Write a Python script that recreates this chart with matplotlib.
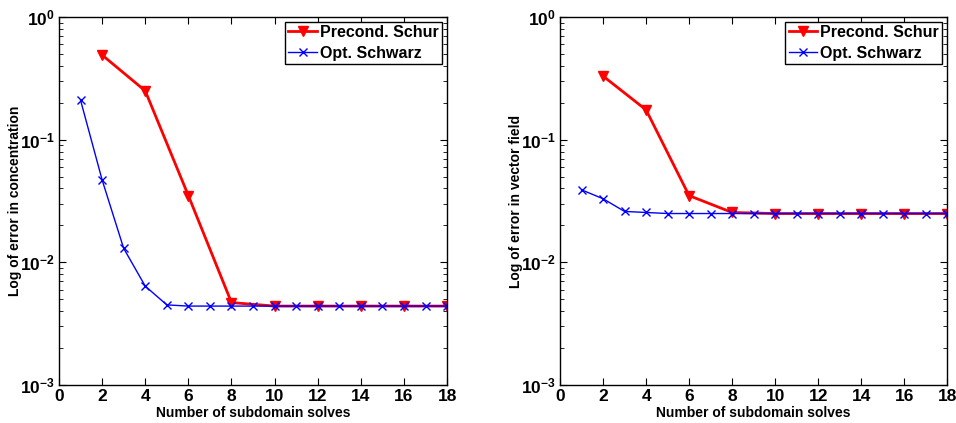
import matplotlib
matplotlib.use("Agg")
import matplotlib.pyplot as plt
from matplotlib.ticker import LogLocator, NullFormatter

plt.rcParams['font.family'] = ['Liberation Sans', 'DejaVu Sans']
plt.rcParams['font.weight'] = 'bold'
plt.rcParams['mathtext.default'] = 'bf'

# left panel: error in concentration
schur_x = [2, 4, 6, 8, 10, 12, 14, 16, 18]
schur_conc = [0.49, 0.25, 0.035, 0.0047, 0.0044, 0.0044, 0.0044, 0.0044, 0.0044]
schwarz_x = list(range(1, 19))
schwarz_conc = [0.21, 0.047, 0.013, 0.0064, 0.0045, 0.0044, 0.0044, 0.0044, 0.0044,
                0.0044, 0.0044, 0.0044, 0.0044, 0.0044, 0.0044, 0.0044, 0.0044, 0.0044]

# right panel: error in vector field
schur_vec = [0.33, 0.175, 0.035, 0.0255, 0.025, 0.025, 0.025, 0.025, 0.025]
schwarz_vec = [0.039, 0.033, 0.026, 0.0255, 0.025, 0.025, 0.025, 0.025, 0.025,
               0.025, 0.025, 0.025, 0.025, 0.025, 0.025, 0.025, 0.025, 0.025]

xticks = [0, 2, 4, 6, 8, 10, 12, 14, 16, 18]

fig = plt.figure(figsize=(9.56, 4.23), dpi=100)
ax1 = fig.add_axes([0.0617, 0.0898, 0.406, 0.870])
ax2 = fig.add_axes([0.5858, 0.0898, 0.405, 0.870])

panels = [(ax1, schur_conc, schwarz_conc, 'Log of error in concentration'),
          (ax2, schur_vec, schwarz_vec, 'Log of error in vector field')]

for ax, red, blue, ylab in panels:
    ax.semilogy(schur_x, red, color='red', lw=2, marker='v', ms=7,
                label='Precond. Schur')
    ax.semilogy(schwarz_x, blue, color='blue', lw=1, marker='x', ms=5.5,
                mew=1, label='Opt. Schwarz')
    ax.set_xlim(0, 18)
    ax.set_ylim(1e-3, 1)
    ax.set_xticks(xticks)
    ax.set_yticks([1e-3, 1e-2, 1e-1, 1])
    ax.yaxis.set_minor_locator(LogLocator(base=10, subs=range(2, 10)))
    ax.yaxis.set_minor_formatter(NullFormatter())
    ax.tick_params(which='both', direction='in', top=True, right=True,
                   labelsize=12.5, pad=3)
    ax.tick_params(which='major', length=5)
    ax.tick_params(which='minor', length=3)
    ax.set_xlabel('Number of subdomain solves', fontsize=10, fontweight='bold')
    ax.set_ylabel(ylab, fontsize=10, fontweight='bold')
    ax.xaxis.set_label_coords(0.5, -0.058)
    ax.yaxis.set_label_coords(-0.095, 0.5)
    for s in ax.spines.values():
        s.set_linewidth(1)
    leg = ax.legend(loc='upper right', fontsize=11.5, fancybox=False,
                    edgecolor='black', framealpha=1, borderaxespad=0.3,
                    handlelength=1.8, handletextpad=0.2, labelspacing=0.35,
                    borderpad=0.2)
    leg.get_frame().set_linewidth(1)

fig.savefig('out.png', dpi=100)
